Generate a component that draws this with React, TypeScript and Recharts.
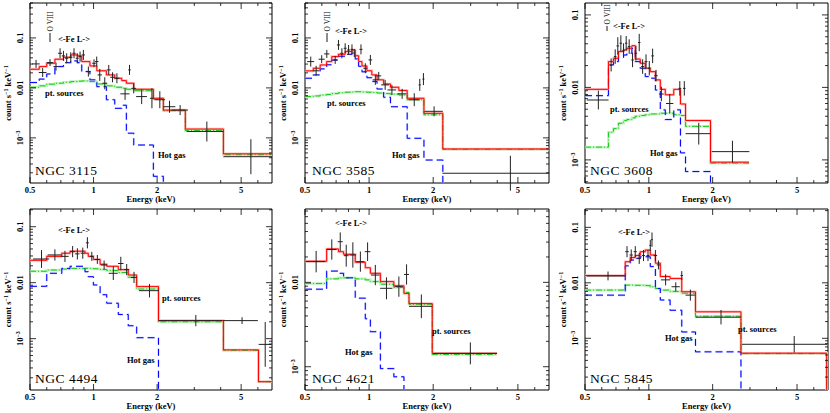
import React from 'react';
import { ComposedChart, Line, Scatter, ErrorBar, XAxis, YAxis, ReferenceArea } from 'recharts';

const FONT = '"Liberation Serif", "DejaVu Serif", serif';

// energy axis (keV), same for every panel
const X_DOMAIN = [0.5, 7];
const X_LABELS = [0.5, 1, 2, 5];
const X_MINOR = [0.6, 0.7, 0.8, 0.9, 3, 4, 6];

// ---- NGC 3115 ----
const n3115Edges = [0.5, 0.553, 0.6, 0.656, 0.72, 0.78, 0.84, 0.879, 0.961, 1.036, 1.15, 1.26, 1.36, 1.43, 1.55, 1.92, 2.14, 2.72, 4.12, 7];
const n3115Total = [0.0236, 0.0267, 0.0311, 0.0375, 0.041, 0.0457, 0.0437, 0.0336, 0.0275, 0.022, 0.0182, 0.0156, 0.014, 0.0124, 0.0094, 0.0062, 0.0036, 0.0015, 0.00048];
const n3115Gas = [0.0128, 0.015, 0.019, 0.0267, 0.032, 0.0347, 0.032, 0.0212, 0.0145, 0.0106, 0.0058, 0.0039, 0.0045, 0.00124, 0.00072, 0.00017, 1e-5, 1e-5, 1e-5];
const n3115Pts = [0.0103, 0.011, 0.0119, 0.0124, 0.013, 0.0134, 0.0136, 0.0138, 0.0134, 0.012, 0.011, 0.0103, 0.0098, 0.0094, 0.0088, 0.006, 0.0035, 0.0014, 0.00046];
const n3115E = [0.534, 0.574, 0.622, 0.664, 0.694, 0.72, 0.746, 0.78, 0.808, 0.837, 0.863, 0.895, 0.945, 1.005, 1.035, 1.07, 1.13, 1.18, 1.23, 1.29, 1.41, 1.48, 1.55, 1.69, 1.89, 2.06, 2.29, 2.57, 3.44, 5.56];
const n3115Ew = [0.022, 0.024, 0.022, 0.018, 0.015, 0.013, 0.013, 0.014, 0.014, 0.014, 0.013, 0.015, 0.025, 0.02, 0.02, 0.025, 0.03, 0.025, 0.03, 0.035, 0.07, 0.02, 0.04, 0.1, 0.04, 0.12, 0.15, 0.23, 0.68, 1.44];
const n3115Rate = [0.0302, 0.0203, 0.0321, 0.0267, 0.0493, 0.0437, 0.0392, 0.041, 0.0493, 0.0392, 0.0423, 0.0457, 0.0212, 0.0311, 0.0336, 0.0182, 0.0124, 0.0229, 0.0163, 0.0156, 0.0076, 0.0229, 0.0098, 0.0067, 0.0062, 0.0058, 0.0042, 0.0036, 0.00134, 0.00042];
const n3115Dex = [0.08, 0.09, 0.07, 0.08, 0.1, 0.1, 0.1, 0.1, 0.1, 0.1, 0.1, 0.1, 0.1, 0.08, 0.1, 0.12, 0.12, 0.1, 0.1, 0.1, 0.12, 0.1, 0.1, 0.15, 0.2, 0.17, 0.12, 0.1, 0.2, 0.35];

// ---- NGC 3585 ----
const n3585Edges = [0.5, 0.547, 0.589, 0.632, 0.668, 0.718, 0.772, 0.83, 0.861, 0.893, 0.926, 0.977, 1.03, 1.09, 1.17, 1.26, 1.38, 1.51, 1.81, 2.22, 7];
const n3585Total = [0.0219, 0.0247, 0.0288, 0.0336, 0.0423, 0.0471, 0.0533, 0.0575, 0.044, 0.0336, 0.0275, 0.022, 0.0182, 0.0145, 0.012, 0.0103, 0.0089, 0.0062, 0.0031, 0.0006];
const n3585Gas = [0.0156, 0.0182, 0.024, 0.029, 0.036, 0.043, 0.047, 0.05, 0.038, 0.027, 0.021, 0.016, 0.0135, 0.0095, 0.0065, 0.0042, 0.0042, 0.00098, 0.00036, 1e-5];
const n3585Pts = [0.0067, 0.0069, 0.0072, 0.0074, 0.0077, 0.008, 0.0082, 0.0083, 0.0084, 0.0084, 0.0083, 0.0082, 0.0081, 0.0079, 0.0077, 0.0075, 0.0072, 0.0058, 0.0029, 0.00059];
const n3585E = [0.532, 0.564, 0.599, 0.633, 0.693, 0.718, 0.745, 0.772, 0.801, 0.831, 0.852, 0.916, 0.96, 1.014, 1.07, 1.11, 1.19, 1.28, 1.43, 1.63, 1.73, 1.8, 2.02, 4.61];
const n3585Ew = [0.02, 0.02, 0.02, 0.018, 0.015, 0.012, 0.012, 0.012, 0.012, 0.012, 0.01, 0.015, 0.02, 0.02, 0.03, 0.03, 0.05, 0.06, 0.07, 0.1, 0.02, 0.02, 0.2, 2.4];
const n3585Rate = [0.0336, 0.022, 0.0375, 0.0479, 0.0363, 0.0724, 0.0493, 0.0621, 0.0575, 0.059, 0.05, 0.059, 0.0247, 0.0363, 0.0145, 0.0174, 0.0115, 0.0091, 0.0076, 0.0058, 0.0115, 0.015, 0.0034, 0.000196];
const n3585Dex = [0.1, 0.1, 0.08, 0.08, 0.08, 0.1, 0.1, 0.1, 0.1, 0.1, 0.08, 0.1, 0.1, 0.1, 0.1, 0.08, 0.1, 0.1, 0.1, 0.13, 0.12, 0.12, 0.1, 0.35];

// ---- NGC 3608 ----
const n3608Edges = [0.5, 0.645, 0.681, 0.719, 0.76, 0.788, 0.832, 0.863, 0.911, 0.962, 1.016, 1.074, 1.133, 1.196, 1.311, 1.41, 1.49, 1.954, 2.97];
const n3608Total = [0.0094, 0.0227, 0.0252, 0.0312, 0.0329, 0.0347, 0.0377, 0.0246, 0.0215, 0.0184, 0.0165, 0.0127, 0.0094, 0.0079, 0.0094, 0.0059, 0.0035, 0.00093];
const n3608Gas = [0.0077, 0.0204, 0.0227, 0.0266, 0.028, 0.0296, 0.0344, 0.0227, 0.0184, 0.0141, 0.0134, 0.0092, 0.0049, 0.0036, 0.0049, 0.00125, 0.00069, 1e-5];
const n3608Pts = [0.0015, 0.0024, 0.0027, 0.0032, 0.0035, 0.0036, 0.0038, 0.004, 0.0041, 0.0042, 0.0043, 0.0043, 0.0044, 0.0044, 0.0042, 0.0041, 0.0029, 0.0009];
const n3608E = [0.578, 0.664, 0.694, 0.714, 0.738, 0.76, 0.782, 0.808, 0.838, 0.869, 0.901, 0.935, 0.97, 1.005, 1.042, 1.081, 1.146, 1.255, 1.4, 1.47, 1.72, 2.48];
const n3608Ew = [0.068, 0.01, 0.01, 0.01, 0.01, 0.01, 0.01, 0.012, 0.012, 0.012, 0.012, 0.015, 0.015, 0.015, 0.015, 0.02, 0.03, 0.05, 0.02, 0.02, 0.23, 0.5];
const n3608Rate = [0.0067, 0.0204, 0.0266, 0.0373, 0.0407, 0.0322, 0.0407, 0.0366, 0.0239, 0.0296, 0.0416, 0.0194, 0.0227, 0.0184, 0.0272, 0.0145, 0.0081, 0.006, 0.0097, 0.0097, 0.0023, 0.0013];
const n3608Dex = [0.13, 0.09, 0.1, 0.12, 0.11, 0.1, 0.1, 0.1, 0.1, 0.1, 0.12, 0.1, 0.1, 0.1, 0.1, 0.08, 0.1, 0.13, 0.1, 0.1, 0.15, 0.15];

// ---- NGC 4494 ----
const n4494Edges = [0.5, 0.6, 0.707, 0.774, 0.911, 0.944, 0.998, 1.074, 1.154, 1.31, 1.46, 1.6, 2.03, 4.12, 6.04, 7];
const n4494Total = [0.0251, 0.0295, 0.0336, 0.0365, 0.0336, 0.0295, 0.026, 0.0213, 0.0196, 0.0171, 0.0137, 0.0085, 0.0021, 0.00063, 0.00017];
const n4494Gas = [0.0086, 0.0147, 0.018, 0.0196, 0.0157, 0.0128, 0.0091, 0.0061, 0.0043, 0.0027, 0.0017, 0.00104, 1e-5, 1e-5, 1e-5];
const n4494Pts = [0.016, 0.0168, 0.0175, 0.018, 0.0181, 0.018, 0.0177, 0.0172, 0.0165, 0.0152, 0.0125, 0.0077, 0.002, 0.00062, 0.00017];
const n4494E = [0.567, 0.656, 0.732, 0.796, 0.838, 0.889, 0.935, 0.981, 1.042, 1.122, 1.24, 1.346, 1.435, 1.555, 1.84, 3.05, 5.05, 6.5];
const n4494Ew = [0.05, 0.05, 0.03, 0.02, 0.02, 0.02, 0.015, 0.02, 0.03, 0.04, 0.06, 0.04, 0.04, 0.05, 0.2, 1.02, 0.95, 0.45];
const n4494Rate = [0.0265, 0.0313, 0.0295, 0.0358, 0.0327, 0.0336, 0.0515, 0.0295, 0.026, 0.0207, 0.0147, 0.022, 0.0171, 0.0124, 0.0072, 0.0021, 0.0021, 0.00079];
const n4494Dex = [0.16, 0.1, 0.1, 0.1, 0.1, 0.1, 0.1, 0.08, 0.08, 0.08, 0.12, 0.12, 0.1, 0.1, 0.12, 0.1, 0.06, 0.4];

// ---- NGC 4621 ----
const n4621Edges = [0.5, 0.632, 0.718, 0.759, 0.861, 0.96, 1.014, 1.13, 1.307, 1.458, 1.54, 1.98, 3.99];
const n4621Total = [0.0178, 0.0249, 0.0231, 0.0215, 0.0173, 0.0149, 0.0128, 0.0102, 0.0091, 0.0074, 0.0056, 0.00144];
const n4621Gas = [0.0083, 0.0136, 0.0128, 0.0113, 0.0065, 0.0037, 0.0026, 0.00095, 0.00076, 1e-5, 1e-5, 1e-5];
const n4621Pts = [0.0097, 0.011, 0.0113, 0.0113, 0.011, 0.0107, 0.0102, 0.0095, 0.0087, 0.0076, 0.0055, 0.0014];
const n4621E = [0.564, 0.668, 0.732, 0.781, 0.839, 0.91, 0.984, 1.07, 1.207, 1.38, 1.5, 1.76, 2.99];
const n4621Ew = [0.06, 0.035, 0.02, 0.02, 0.03, 0.04, 0.03, 0.05, 0.08, 0.06, 0.04, 0.22, 1.0];
const n4621Rate = [0.0176, 0.0245, 0.0303, 0.0207, 0.0211, 0.0176, 0.0231, 0.0122, 0.0085, 0.0089, 0.0124, 0.0052, 0.00144];
const n4621Dex = [0.127, 0.12, 0.11, 0.13, 0.15, 0.12, 0.11, 0.12, 0.13, 0.12, 0.12, 0.14, 0.13];

// ---- NGC 5845 ----
const n5845Edges = [0.5, 0.774, 0.817, 0.863, 0.911, 0.962, 1.016, 1.074, 1.133, 1.26, 1.43, 1.66, 2.72, 6.9, 7];
const n5845Total = [0.0135, 0.024, 0.0285, 0.031, 0.0364, 0.039, 0.0317, 0.0226, 0.013, 0.012, 0.0069, 0.003, 0.00054, 1e-5];
const n5845Gas = [0.006, 0.0202, 0.0257, 0.0276, 0.0295, 0.0295, 0.0196, 0.0079, 0.0049, 0.0032, 0.0013, 0.00057, 1e-5, 1e-5];
const n5845Pts = [0.0074, 0.0091, 0.0091, 0.009, 0.009, 0.0089, 0.0085, 0.0079, 0.0074, 0.007, 0.0065, 0.0025, 0.00053, 1e-5];
const n5845E = [0.642, 0.789, 0.826, 0.863, 0.901, 0.944, 0.991, 1.016, 1.035, 1.074, 1.11, 1.2, 1.34, 1.43, 1.57, 2.19, 4.85];
const n5845Ew = [0.133, 0.015, 0.015, 0.015, 0.015, 0.015, 0.015, 0.01, 0.01, 0.02, 0.02, 0.06, 0.06, 0.02, 0.08, 0.53, 2.1];
const n5845Rate = [0.0133, 0.0364, 0.0317, 0.0364, 0.0276, 0.031, 0.031, 0.0473, 0.06, 0.031, 0.021, 0.0113, 0.0085, 0.0135, 0.006, 0.0024, 0.00078];
const n5845Dex = [0.08, 0.1, 0.1, 0.1, 0.1, 0.1, 0.1, 0.1, 0.13, 0.1, 0.08, 0.1, 0.08, 0.08, 0.1, 0.13, 0.15];

// plot boxes in page pixels
const COL_LEFT = [30, 305, 585];
const COL_RIGHT = [272, 549, 828];
const ROW_TOP = [3, 209];
const ROW_BOTTOM = [183, 390];

const panels = [
  { name: 'NGC 3115', col: 0, row: 0, yDomain: [1.25e-4, 0.5], edges: n3115Edges, total: n3115Total, gas: n3115Gas, pts: n3115Pts, e: n3115E, ew: n3115Ew, rate: n3115Rate, dex: n3115Dex },
  { name: 'NGC 3585', col: 1, row: 0, yDomain: [1.25e-4, 0.5], edges: n3585Edges, total: n3585Total, gas: n3585Gas, pts: n3585Pts, e: n3585E, ew: n3585Ew, rate: n3585Rate, dex: n3585Dex },
  { name: 'NGC 3608', col: 2, row: 0, yDomain: [4.8e-4, 0.146], edges: n3608Edges, total: n3608Total, gas: n3608Gas, pts: n3608Pts, e: n3608E, ew: n3608Ew, rate: n3608Rate, dex: n3608Dex },
  { name: 'NGC 4494', col: 0, row: 1, yDomain: [1.21e-4, 0.207], edges: n4494Edges, total: n4494Total, gas: n4494Gas, pts: n4494Pts, e: n4494E, ew: n4494Ew, rate: n4494Rate, dex: n4494Dex },
  { name: 'NGC 4621', col: 1, row: 1, yDomain: [5.3e-4, 0.074], edges: n4621Edges, total: n4621Total, gas: n4621Gas, pts: n4621Pts, e: n4621E, ew: n4621Ew, rate: n4621Rate, dex: n4621Dex },
  { name: 'NGC 5845', col: 2, row: 1, yDomain: [1.17e-4, 0.214], edges: n5845Edges, total: n5845Total, gas: n5845Gas, pts: n5845Pts, e: n5845E, ew: n5845Ew, rate: n5845Rate, dex: n5845Dex },
];

// annotation text: [text, x, y, anchor]
const notes: [string, number, number, string][] = [
  ['NGC 3115', 35, 175, 'start'], ['pt. sources', 45, 96, 'start'], ['Hot gas', 158, 158, 'start'], ['<-Fe L->', 74, 42, 'middle'],
  ['NGC 3585', 312, 175, 'start'], ['pt. sources', 327, 106, 'start'], ['Hot gas', 392, 158, 'start'], ['<-Fe L->', 351, 34, 'middle'],
  ['NGC 3608', 590, 175, 'start'], ['pt. sources', 610, 112, 'start'], ['Hot gas', 650, 156, 'start'], ['<-Fe L->', 629, 29, 'middle'],
  ['NGC 4494', 35, 383, 'start'], ['pt. sources', 162, 301, 'start'], ['Hot gas', 127, 363, 'start'], ['<-Fe L->', 74, 233, 'middle'],
  ['NGC 4621', 312, 383, 'start'], ['pt. sources', 432, 334, 'start'], ['Hot gas', 345, 355, 'start'], ['<-Fe L->', 351, 226, 'middle'],
  ['NGC 5845', 590, 383, 'start'], ['pt. sources', 738, 332, 'start'], ['Hot gas', 665, 341, 'start'], ['<-Fe L->', 634, 235, 'middle'],
];
// O VIII marker: x, bottom of tick, tick length
const oviii = [[50, 42, 9], [327, 42, 9], [607, 31, 5]];

const logTicks = ([lo, hi]: number[]) => {
  const out: number[] = [];
  for (let d = Math.floor(Math.log10(lo)); d <= Math.ceil(Math.log10(hi)); d++) {
    for (let k = 1; k <= 9; k++) {
      const t = +(k * Math.pow(10, d)).toPrecision(6);
      if (t >= lo && t <= hi) out.push(t);
    }
  }
  return out;
};

const yLabel = (lg: number) => {
  if (lg === -1) return '0.1';
  if (lg === -2) return '0.01';
  return (
    <>
      10<tspan dy={-3} fontSize={6}>−3</tspan>
    </>
  );
};

const xTick = (ph: number) => (props: any) => {
  const { x, y, payload } = props;
  const major = X_LABELS.includes(payload.value);
  const len = major ? 6 : 3;
  return (
    <g>
      <line x1={x} x2={x} y1={y} y2={y - len} stroke="#000" strokeWidth={0.8} />
      <line x1={x} x2={x} y1={y - ph} y2={y - ph + len} stroke="#000" strokeWidth={0.8} />
      {major && (
        <text x={x} y={y + 10} textAnchor="middle" fontSize={8.5} fontWeight="bold" fontFamily={FONT} fill="#000">
          {payload.value}
        </text>
      )}
    </g>
  );
};

const yTick = (pw: number) => (props: any) => {
  const { x, y, payload } = props;
  const lg = Math.round(Math.log10(payload.value));
  const major = Math.abs(Math.log10(payload.value) - lg) < 1e-6;
  const len = major ? 6 : 3;
  return (
    <g>
      <line x1={x} x2={x + len} y1={y} y2={y} stroke="#000" strokeWidth={0.8} />
      <line x1={x + pw} x2={x + pw - len} y1={y} y2={y} stroke="#000" strokeWidth={0.8} />
      {major && (
        <text transform={`translate(${x - 7},${y}) rotate(-90)`} textAnchor="middle" fontSize={8.5} fontWeight="bold" fontFamily={FONT} fill="#000">
          {yLabel(lg)}
        </text>
      )}
    </g>
  );
};

function SpecPanel({ p }: { p: any }) {
  const left = COL_LEFT[p.col];
  const top = ROW_TOP[p.row];
  const pw = COL_RIGHT[p.col] - left;
  const ph = ROW_BOTTOM[p.row] - top;
  const model = (vals: number[]) => p.edges.map((e: number, i: number) => ({ e, v: vals[Math.min(i, vals.length - 1)] }));
  const obs = p.e.map((e: number, i: number) => {
    const v = p.rate[i];
    const f = Math.pow(10, p.dex[i]);
    return { e, v, ex: [p.ew[i], p.ew[i]], ey: [v - v / f, v * f - v] };
  });
  const line = { dataKey: 'v', type: 'stepAfter' as const, dot: false, activeDot: false, isAnimationActive: false };
  return (
    <div style={{ position: 'absolute', left: left - 30, top: top - 2 }}>
      <ComposedChart width={30 + pw + 2} height={2 + ph + 25} margin={{ top: 2, right: 2, bottom: 0, left: 0 }}>
        <XAxis
          type="number" dataKey="e" scale="log" domain={X_DOMAIN} allowDataOverflow
          ticks={[...X_LABELS, ...X_MINOR]} interval={0} height={25}
          axisLine={false} tickLine={false} tickSize={0} tickMargin={0} tick={xTick(ph)}
        />
        <YAxis
          type="number" dataKey="v" scale="log" domain={p.yDomain} allowDataOverflow
          ticks={logTicks(p.yDomain)} interval={0} width={30}
          axisLine={false} tickLine={false} tickSize={0} tickMargin={0} tick={yTick(pw)}
        />
        <ReferenceArea x1={X_DOMAIN[0]} x2={X_DOMAIN[1]} y1={p.yDomain[0]} y2={p.yDomain[1]} fill="none" fillOpacity={0} stroke="#000" strokeWidth={1} ifOverflow="visible" />
        <Line {...line} data={model(p.pts)} stroke="#bff3bf" strokeWidth={2.5} />
        <Line {...line} data={model(p.gas)} stroke="#c3cfff" strokeWidth={2} strokeDasharray="7 4" />
        <Line {...line} data={model(p.total)} stroke="#ffbcbc" strokeWidth={2.5} />
        <Line {...line} data={model(p.pts)} stroke="#11cc11" strokeWidth={1} strokeDasharray="6 2 1 2" />
        <Line {...line} data={model(p.gas)} stroke="#0000ff" strokeWidth={1} strokeDasharray="7 4" />
        <Line {...line} data={model(p.total)} stroke="#ff0000" strokeWidth={1} />
        <Scatter data={obs} dataKey="v" isAnimationActive={false} shape={() => <g />}>
          <ErrorBar dataKey="ex" direction="x" width={0} stroke="#222" strokeWidth={1} />
          <ErrorBar dataKey="ey" direction="y" width={0} stroke="#222" strokeWidth={1} />
        </Scatter>
      </ComposedChart>
    </div>
  );
}

export default function App() {
  return (
    <div style={{ position: 'absolute', left: 0, top: 0, width: 830, height: 413, background: '#fff', overflow: 'hidden' }}>
      {panels.map((p) => (
        <SpecPanel key={p.name} p={p} />
      ))}
      <svg width={830} height={413} style={{ position: 'absolute', left: 0, top: 0, pointerEvents: 'none' }} fontFamily={FONT}>
        {notes.map(([t, x, y, a], i) => (
          <text key={i} x={x} y={y} textAnchor={a as any} fontSize={t.startsWith('NGC') ? 13.5 : 8.5} fontWeight={t.startsWith('NGC') ? 'normal' : 'bold'} fill="#000" letterSpacing={t.startsWith('NGC') ? 0.5 : 0}>
            {t}
          </text>
        ))}
        {oviii.map(([x, y, len], i) => (
          <g key={i}>
            <line x1={x} x2={x} y1={y} y2={y - len} stroke="#000" strokeWidth={0.9} />
            <text transform={`translate(${x + 3},${y - len - 1.5}) rotate(-90)`} fontSize={7.5} fill="#000">O VIII</text>
          </g>
        ))}
        {[0, 1, 2].map((c) =>
          [0, 1].map((r) => {
            const cx = (COL_LEFT[c] + COL_RIGHT[c]) / 2;
            const cy = (ROW_TOP[r] + ROW_BOTTOM[r]) / 2;
            return (
              <g key={`${c}-${r}`}>
                <text x={cx} y={ROW_BOTTOM[r] + 19} textAnchor="middle" fontSize={8.5} fontWeight="bold" fill="#000">Energy (keV)</text>
                <text transform={`translate(${COL_LEFT[c] - 19},${cy}) rotate(-90)`} textAnchor="middle" fontSize={8.5} fontWeight="bold" fill="#000">
                  count s<tspan dy={-3} fontSize={6}>−1</tspan>
                  <tspan dy={3}> keV</tspan>
                  <tspan dy={-3} fontSize={6}>−1</tspan>
                </text>
              </g>
            );
          })
        )}
      </svg>
    </div>
  );
}
